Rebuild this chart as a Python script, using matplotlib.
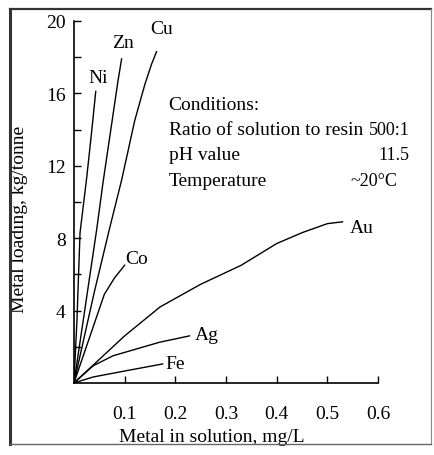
import matplotlib
matplotlib.use('Agg')
import matplotlib.pyplot as plt
from matplotlib.lines import Line2D

plt.rcParams['font.family'] = ['Liberation Serif', 'DejaVu Serif']

# loading curves (x: mg/L in solution, y: kg/tonne on resin)
ni_x = [0, 0.006, 0.012, 0.025, 0.035, 0.043]
ni_y = [0, 3.5, 8.3, 11.3, 13.9, 16.1]
zn_x = [0, 0.045, 0.057, 0.087, 0.094]
zn_y = [0, 8.5, 11.0, 16.7, 17.9]
cu_x = [0, 0.04, 0.070, 0.094, 0.120, 0.140, 0.153, 0.163]
cu_y = [0, 5.0, 8.5, 11.2, 14.5, 16.5, 17.6, 18.3]
co_x = [0, 0.06, 0.08, 0.10]
co_y = [0, 4.9, 5.8, 6.5]
au_x = [0, 0.05, 0.10, 0.17, 0.25, 0.33, 0.40, 0.45, 0.50, 0.53]
au_y = [0, 1.3, 2.6, 4.2, 5.45, 6.5, 7.7, 8.3, 8.8, 8.9]
ag_x = [0, 0.038, 0.077, 0.169, 0.228]
ag_y = [0, 0.95, 1.5, 2.25, 2.6]
fe_x = [0, 0.038, 0.104, 0.175]
fe_y = [0, 0.33, 0.68, 1.05]

curves = [('Ni', ni_x, ni_y), ('Zn', zn_x, zn_y), ('Cu', cu_x, cu_y),
          ('Co', co_x, co_y), ('Au', au_x, au_y), ('Ag', ag_x, ag_y),
          ('Fe', fe_x, fe_y)]
label_pos = {'Ni': (0.047, 16.9), 'Zn': (0.097, 18.8), 'Cu': (0.173, 19.6),
             'Co': (0.124, 6.9), 'Au': (0.567, 8.6), 'Ag': (0.262, 2.7),
             'Fe': (0.20, 1.05)}

cond_rows = ['Conditions:', 'Ratio of solution to resin', 'pH value', 'Temperature']
cond_vals = ['', '500:1', '11.5', '~20\u00b0C']

fs = 14

fig = plt.figure(figsize=(4.35, 4.56), dpi=100)
ax = fig.add_axes([0.170, 0.158, 0.699, 0.794])

for name, xs, ys in curves:
    ax.plot(xs, ys, color='black', lw=1.0)
    lx, ly = label_pos[name]
    ax.text(lx, ly, name, fontsize=fs, ha='center', va='center')

# conditions block
row_y = [15.4, 14.0, 12.6, 11.2]
val_x = [0, 0.663, 0.661, 0.638]
for txt, val, yy, vx in zip(cond_rows, cond_vals, row_y, val_x):
    ax.text(0.187, yy, txt, fontsize=fs, ha='left', va='center')
    if val:
        ax.text(vx, yy, val, fontsize=13, ha='right', va='center', clip_on=False)

ax.set_xlim(0, 0.6)
ax.set_ylim(0, 20)
ax.set_xticks([0.1, 0.2, 0.3, 0.4, 0.5, 0.6])
ax.set_xticklabels(['0.1', '0.2', '0.3', '0.4', '0.5', '0.6'])
ax.set_yticks([4, 8, 12, 16, 20])
ax.set_yticks([2, 6, 10, 14, 18], minor=True)
ax.tick_params(axis='both', which='both', direction='in', length=5, width=1.0,
               labelsize=fs)
ax.tick_params(axis='x', pad=16)
ax.tick_params(axis='y', pad=6)
for s in ['top', 'right']:
    ax.spines[s].set_visible(False)
for s in ['left', 'bottom']:
    ax.spines[s].set_linewidth(1.2)

ax.set_xlabel('Metal in solution, mg/L', fontsize=fs)
ax.set_ylabel('Metal loading, kg/tonne', fontsize=fs)
ax.xaxis.set_label_coords(0.454, -0.125)
ax.yaxis.set_label_coords(-0.152, 0.455)

# outer frame around the figure
fx0, fx1 = 10 / 435, 431 / 435
fy0, fy1 = 1 - 445 / 456, 1 - 10 / 456
fig.add_artist(Line2D([fx0, fx0], [fy0, fy1], color='#333333', lw=2.2))
fig.add_artist(Line2D([fx0, fx1], [fy1, fy1], color='#333333', lw=1.6))
fig.add_artist(Line2D([fx1, fx1], [fy0, fy1], color='#888888', lw=0.8))
fig.add_artist(Line2D([fx0, fx1], [fy0, fy0], color='#666666', lw=1.0))

fig.savefig('out.png', dpi=100)
